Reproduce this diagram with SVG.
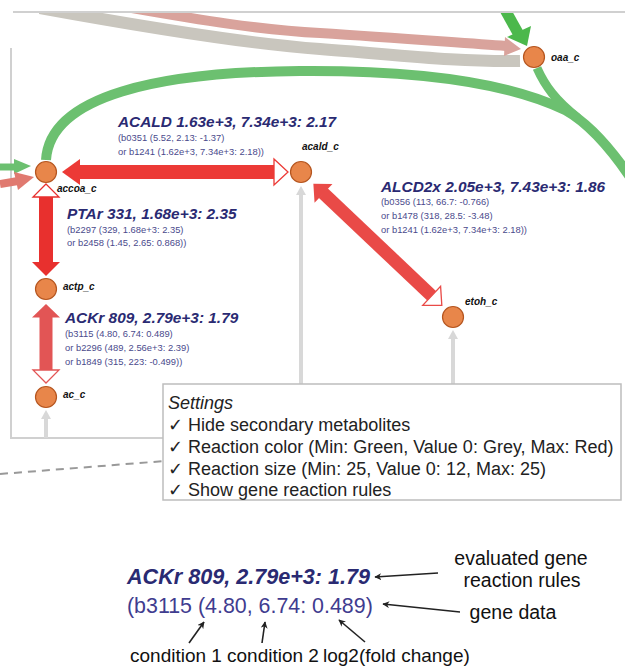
<svg xmlns="http://www.w3.org/2000/svg" width="625" height="667" viewBox="0 0 625 667">
<defs>
<style>
.met{fill:#E8864A;stroke:#B5551F;stroke-width:1.2}
.mlab{font-family:"Liberation Sans",Arial,sans-serif;font-weight:bold;font-style:italic;font-size:10px;fill:#111}
.rt{font-family:"Liberation Sans",Arial,sans-serif;font-weight:bold;font-style:italic;font-size:15.4px;fill:#2A2A72}
.rs{font-family:"Liberation Sans",Arial,sans-serif;font-size:9.4px;fill:#4A4A8C}
.frame{stroke:#D0D0D0;stroke-width:2;fill:none}
.gray{stroke:#D8D8D8;stroke-width:4;fill:none}
.grayh{fill:#D8D8D8}
.hollow{fill:#fff;stroke-width:1.3}
.set{font-family:"Liberation Sans","DejaVu Sans",Arial,sans-serif;font-size:18px;fill:#222}
.ann{font-family:"Liberation Sans",Arial,sans-serif;font-size:19px;fill:#111}
.annr{font-family:"Liberation Sans",Arial,sans-serif;font-size:19.5px;fill:#111;text-anchor:middle}
.aline{stroke:#222;stroke-width:1.6;fill:none}
</style>
<clipPath id="clipTop"><rect x="0" y="13" width="625" height="654"/></clipPath>
<marker id="ah" viewBox="0 0 10 10" refX="9" refY="5" markerWidth="7" markerHeight="7" orient="auto" markerUnits="userSpaceOnUse">
<path d="M0,0 L10,5 L0,10 L3,5 Z" fill="#222"/>
</marker>
</defs>
<rect width="625" height="667" fill="#fff"/>

<!-- frame -->
<g id="frame">
<line class="frame" x1="13" y1="12" x2="625" y2="12"/>
<line class="frame" x1="11" y1="48" x2="11" y2="438"/>
<line class="frame" x1="10" y1="438" x2="621" y2="438"/>
</g>

<g id="connectors">
<g clip-path="url(#clipTop)">
<!-- top curves -->
<path d="M40,8 C150,28 250,44 320,49 C400,55 455,62 520,61" stroke="#C9C6BE" stroke-width="12" fill="none"/>
<path d="M120,6 C200,20 260,30 320,33 C400,38 460,43 506,46" stroke="#D9A39C" stroke-width="10" fill="none"/>
<polygon points="505,37 521,49 504,56" fill="#D9A39C"/>
<line x1="503" y1="6" x2="518" y2="33" stroke="#4CB84C" stroke-width="11"/>
<polygon points="507,37 531,26 527,46" fill="#4CB84C"/>
<!-- green arc -->
<path d="M46,160 C50,95 160,72 300,71 C430,70 515,86 565,110 C590,124 612,150 632,180" stroke="#6CC070" stroke-width="10" fill="none"/>
<path d="M537,68 C545,86 556,101 578,118" stroke="#6CC070" stroke-width="9" fill="none"/>
<!-- left incoming -->
<line x1="0" y1="167" x2="16" y2="167" stroke="#6CC070" stroke-width="7"/>
<polygon points="14,159 31,166 14,174" fill="#6CC070"/>
<line x1="0" y1="184" x2="18" y2="181" stroke="#E07A70" stroke-width="8"/>
<polygon points="14,172 34,177 18,190" fill="#E07A70"/>
</g>
<!-- gray verticals -->
<line class="gray" x1="301" y1="194" x2="301" y2="438"/>
<polygon class="grayh" points="301,186 306,195 296,195"/>
<line class="gray" x1="453" y1="338" x2="453" y2="438"/>
<polygon class="grayh" points="453,330 458,339 448,339"/>
<line class="gray" x1="46" y1="418" x2="46" y2="438"/>
<polygon class="grayh" points="46,410 51,419 41,419"/>
<!-- dashed -->
<line x1="0" y1="474" x2="165" y2="461" stroke="#999" stroke-width="2" stroke-dasharray="8,6"/>

<!-- ACALD -->
<g id="r_ACALD">
<polygon points="62,172 80,159 80,185" fill="#EC3A36"/>
<rect x="79.5" y="165" width="194.5" height="14" fill="#EC3A36"/>
<polygon class="hollow" points="274,159 288,172 274,185" stroke="#EC3A36"/>
</g>
<!-- PTAr -->
<g id="r_PTAr">
<polygon class="hollow" points="46,184 59,197 33,197" stroke="#E8302E"/>
<rect x="39" y="197" width="14" height="65.5" fill="#E8302E"/>
<polygon points="32,262 60,262 46,276" fill="#E8302E"/>
</g>
<!-- ACKr -->
<g id="r_ACKr">
<polygon points="46,304 60,317.5 32,317.5" fill="#E25555"/>
<rect x="39.5" y="317" width="13" height="53" fill="#E25555"/>
<polygon class="hollow" points="33,370 59,370 46,383" stroke="#E25555"/>
</g>
<!-- ALCD2x -->
<g id="r_ALCD2x" transform="translate(301,172) rotate(43.46)">
<polygon points="17,0 31,-13 31,13" fill="#E94A47"/>
<rect x="30.5" y="-6.5" width="150" height="13" fill="#E94A47"/>
<polygon class="hollow" points="180,-13 194,0 180,13" stroke="#E94A47"/>
</g>
</g>

<!-- metabolites -->
<g id="oaa_c"><circle class="met" cx="534" cy="57" r="10.5"/><text class="mlab" x="551" y="61">oaa_c</text></g>
<g id="accoa_c"><circle class="met" cx="46" cy="172" r="10.5"/><text class="mlab" x="57" y="192">accoa_c</text></g>
<g id="acald_c"><circle class="met" cx="301" cy="172" r="10.5"/><text class="mlab" x="302" y="150">acald_c</text></g>
<g id="actp_c"><circle class="met" cx="46" cy="289" r="10.5"/><text class="mlab" x="63" y="290">actp_c</text></g>
<g id="ac_c"><circle class="met" cx="46" cy="397" r="10.5"/><text class="mlab" x="63" y="398">ac_c</text></g>
<g id="etoh_c"><circle class="met" cx="453" cy="317" r="10.5"/><text class="mlab" x="465" y="305">etoh_c</text></g>

<!-- reaction labels -->
<g id="lab_ACALD">
<text class="rt" x="118" y="127">ACALD 1.63e+3, 7.34e+3: 2.17</text>
<text class="rs" x="118" y="141">(b0351 (5.52, 2.13: -1.37)</text>
<text class="rs" x="118" y="155">or b1241 (1.62e+3, 7.34e+3: 2.18))</text>
</g>
<g id="lab_ALCD2x">
<text class="rt" x="381" y="192">ALCD2x 2.05e+3, 7.43e+3: 1.86</text>
<text class="rs" x="381" y="205">(b0356 (113, 66.7: -0.766)</text>
<text class="rs" x="381" y="219">or b1478 (318, 28.5: -3.48)</text>
<text class="rs" x="381" y="233">or b1241 (1.62e+3, 7.34e+3: 2.18))</text>
</g>
<g id="lab_PTAr">
<text class="rt" x="67" y="219">PTAr 331, 1.68e+3: 2.35</text>
<text class="rs" x="67" y="233">(b2297 (329, 1.68e+3: 2.35)</text>
<text class="rs" x="67" y="246">or b2458 (1.45, 2.65: 0.868))</text>
</g>
<g id="lab_ACKr">
<text class="rt" x="65" y="323">ACKr 809, 2.79e+3: 1.79</text>
<text class="rs" x="65" y="337">(b3115 (4.80, 6.74: 0.489)</text>
<text class="rs" x="65" y="351">or b2296 (489, 2.56e+3: 2.39)</text>
<text class="rs" x="65" y="365">or b1849 (315, 223: -0.499))</text>
</g>

<!-- settings -->
<g id="settings">
<rect x="163" y="384" width="458" height="116" fill="#fff" stroke="#BDBDBD" stroke-width="1.5"/>
<text class="set" x="168" y="409" font-style="italic">Settings</text>
<text class="set" x="168" y="431">✓ Hide secondary metabolites</text>
<text class="set" x="168" y="453">✓ Reaction color (Min: Green, Value 0: Grey, Max: Red)</text>
<text class="set" x="168" y="475">✓ Reaction size (Min: 25, Value 0: 12, Max: 25)</text>
<text class="set" x="168" y="496">✓ Show gene reaction rules</text>
</g>

<!-- legend -->
<g id="legend">
<text x="127" y="584" font-family="Liberation Sans, Arial, sans-serif" font-weight="bold" font-style="italic" font-size="21.6" fill="#2A2A72">ACKr 809, 2.79e+3: 1.79</text>
<text x="127" y="613" font-family="Liberation Sans, Arial, sans-serif" font-size="21.4" fill="#3F3C8F">(b3115 (4.80, 6.74: 0.489)</text>
<text class="annr" x="521" y="565">evaluated gene</text>
<text class="annr" x="522" y="587">reaction rules</text>
<text class="annr" x="513" y="619">gene data</text>
<text class="ann" x="130" y="662">condition 1</text>
<text class="ann" x="227" y="662">condition 2</text>
<text class="ann" x="323" y="662">log2(fold change)</text>
<line class="aline" x1="438" y1="573" x2="375" y2="577" marker-end="url(#ah)"/>
<line class="aline" x1="460" y1="612" x2="383" y2="604" marker-end="url(#ah)"/>
<line class="aline" x1="189" y1="643" x2="204" y2="622" marker-end="url(#ah)"/>
<line class="aline" x1="262" y1="643" x2="265" y2="622" marker-end="url(#ah)"/>
<line class="aline" x1="365" y1="642" x2="339" y2="620" marker-end="url(#ah)"/>
</g>
</svg>
